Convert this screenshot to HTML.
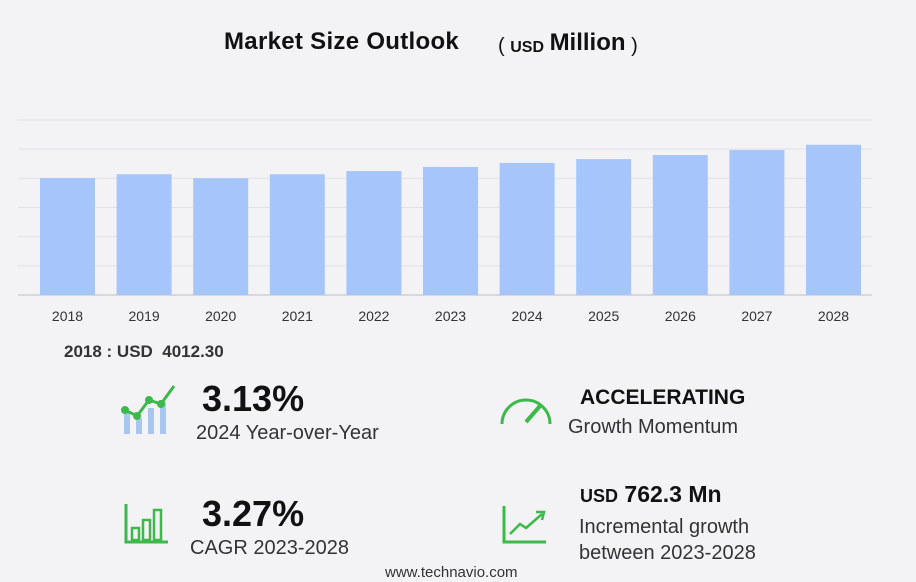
<!DOCTYPE html>
<html><head><meta charset="utf-8"><style>
body{margin:0;width:916px;height:582px;background:#f3f3f5;font-family:"Liberation Sans",sans-serif;overflow:hidden;position:relative}
.t{position:absolute;white-space:nowrap;color:#222}
</style></head><body>
<div class="t" style="left:224px;top:28px;font-size:24px;font-weight:bold;color:#111;letter-spacing:0.3px">Market Size Outlook</div>
<div class="t" style="left:498px;top:31px;font-size:20px;color:#111">( <span style="font-size:16px;font-weight:bold">USD</span> <b style="font-size:24px;position:relative;top:-2px">Million</b> )</div>
<svg id="chart" width="916" height="340" style="position:absolute;left:0;top:0"></svg>
<div class="t" style="left:64px;top:342px;font-size:17px;font-weight:bold;color:#333">2018 : USD&nbsp; 4012.30</div>

<svg style="position:absolute;left:120px;top:382px" width="60" height="56">
<rect x="4" y="30" width="6" height="22" fill="#a9c6ef"/><rect x="16" y="36" width="6" height="16" fill="#a9c6ef"/><rect x="28" y="26" width="6" height="26" fill="#a9c6ef"/><rect x="40" y="20" width="6" height="32" fill="#a9c6ef"/>
<polyline points="5,28 17,34 29,18 41,22 54,4" fill="none" stroke="#3cb94a" stroke-width="3"/>
<circle cx="5" cy="28" r="4" fill="#3cb94a"/><circle cx="17" cy="34" r="4" fill="#3cb94a"/><circle cx="29" cy="18" r="4" fill="#3cb94a"/><circle cx="41" cy="22" r="4" fill="#3cb94a"/></svg>
<div class="t" style="left:202px;top:378px;font-size:36px;font-weight:bold;color:#111">3.13%</div>
<div class="t" style="left:196px;top:422px;font-size:20px;color:#333">2024 Year-over-Year</div>

<svg style="position:absolute;left:498px;top:392px" width="56" height="36">
<path d="M4 32 A24 24 0 0 1 52 32" fill="none" stroke="#3cb94a" stroke-width="3"/><line x1="28" y1="30" x2="42" y2="14" stroke="#3cb94a" stroke-width="4"/></svg>
<div class="t" style="left:580px;top:386px;font-size:21px;font-weight:bold;color:#111">ACCELERATING</div>
<div class="t" style="left:568px;top:416px;font-size:20px;color:#333">Growth Momentum</div>

<svg style="position:absolute;left:124px;top:502px" width="46" height="42">
<path d="M2 2 V40 H44" fill="none" stroke="#3cb94a" stroke-width="3"/><rect x="8" y="26" width="7" height="12" fill="none" stroke="#3cb94a" stroke-width="2.5"/><rect x="19" y="18" width="7" height="20" fill="none" stroke="#3cb94a" stroke-width="2.5"/><rect x="30" y="8" width="7" height="30" fill="none" stroke="#3cb94a" stroke-width="2.5"/></svg>
<div class="t" style="left:202px;top:493px;font-size:36px;font-weight:bold;color:#111">3.27%</div>
<div class="t" style="left:190px;top:537px;font-size:20px;color:#333">CAGR 2023-2028</div>

<svg style="position:absolute;left:502px;top:504px" width="46" height="40">
<path d="M2 2 V38 H44" fill="none" stroke="#3cb94a" stroke-width="3"/><polyline points="8,30 18,20 24,24 40,10" fill="none" stroke="#3cb94a" stroke-width="2.5"/><path d="M34 8 L42 8 L40 16" fill="none" stroke="#3cb94a" stroke-width="2.5"/></svg>
<div class="t" style="left:580px;top:481px;font-size:23px;font-weight:bold;color:#111"><span style="font-size:18px">USD</span> 762.3 Mn</div>
<div class="t" style="left:579px;top:514px;font-size:20px;color:#333;line-height:26px">Incremental growth<br>between 2023-2028</div>
<div class="t" style="left:385px;top:564px;font-size:15px;color:#333">www.technavio.com</div>
<script>
const years=["2018","2019","2020","2021","2022","2023","2024","2025","2026","2027","2028"];
const values=[4012.3,4140,4005,4140,4250,4390,4530,4660,4800,4970,5150];
const gridTicks=[0,1000,2000,3000,4000,5000,6000];
const svg=document.getElementById('chart');
const NS='http://www.w3.org/2000/svg';
const x0=18,x1=872,base=295,yTop=120,maxV=6000;
const y=v=>base-(v/maxV)*(base-yTop);
const xc=i=>67.5+i*76.6;
gridTicks.forEach(t=>{const l=document.createElementNS(NS,'line');


l.setAttribute('x1',x0);l.setAttribute('x2',x1);l.setAttribute('y1',y(t));l.setAttribute('y2',y(t));
l.setAttribute('stroke',t===0?'#cfcfd4':'#e2e2e6');l.setAttribute('stroke-width',t===0?1.5:1);svg.appendChild(l);});
values.forEach((v,i)=>{const r=document.createElementNS(NS,'rect');


r.setAttribute('x',xc(i)-27.5);r.setAttribute('width',55);r.setAttribute('y',y(v));r.setAttribute('height',base-y(v));
r.setAttribute('fill','#a6c6fb');svg.appendChild(r);
const t=document.createElementNS(NS,'text');


t.setAttribute('x',xc(i));t.setAttribute('y',321);t.setAttribute('text-anchor','middle');
t.setAttribute('font-size','14');t.setAttribute('fill','#333');t.setAttribute('font-family','Liberation Sans, sans-serif');
t.textContent=years[i];svg.appendChild(t);});
</script>
</body></html>
